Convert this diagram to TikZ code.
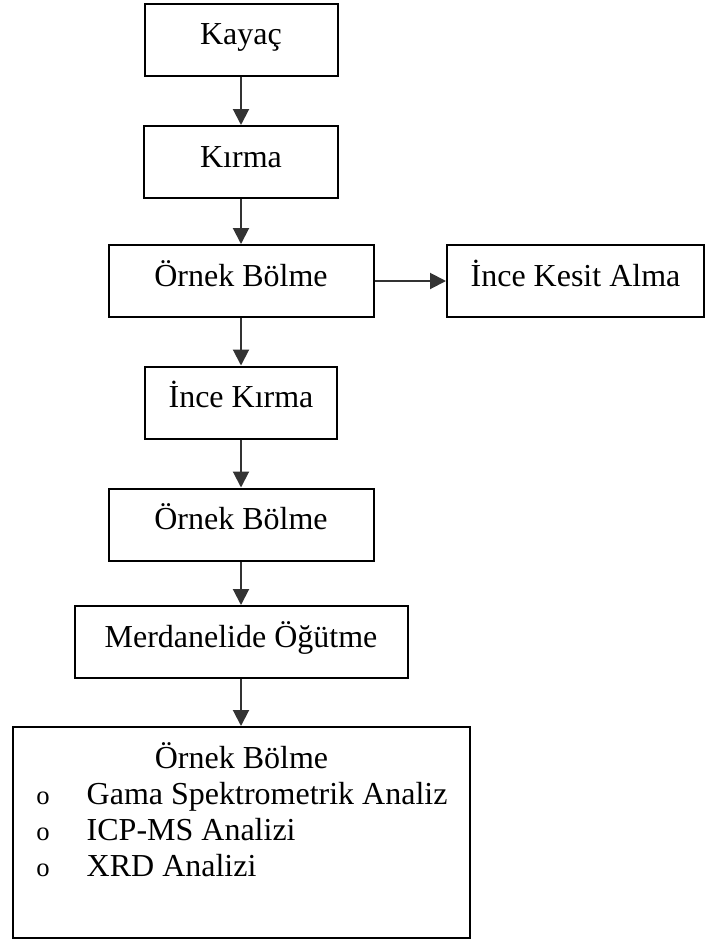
\documentclass[tikz,border=0pt]{standalone}
\usepackage{fontspec}
\setmainfont{Liberation Serif}
\usetikzlibrary{arrows.meta}

\begin{document}
\begin{tikzpicture}[x=0.75pt, y=-0.75pt,
	kutu/.style={rectangle, draw=black, line width=1.5pt, minimum height=54pt,
		text height=18pt, text depth=10pt, inner sep=0pt, font=\fontsize{24}{29}\selectfont},
	ok/.style={draw=black!80, line width=1.5pt, -{Triangle[length=12pt,width=12pt]}},
	yazi/.style={font=\fontsize{24}{29}\selectfont}]

	\useasboundingbox (0,0) rectangle (706,940);

	\node [kutu, minimum width=144.75pt] (kayac) at (241,39.5) {Kayaç};
	\node [kutu, minimum width=145.5pt] (kirma) at (241,162) {Kırma};
	\node [kutu, minimum width=198.75pt] (bolme1) at (241,281) {Örnek Bölme};
	\node [kutu, minimum width=192.75pt] (kesit) at (575.5,281) {İnce Kesit Alma};
	\node [kutu, minimum width=144pt] (incekirma) at (241,402.5) {İnce Kırma};
	\node [kutu, minimum width=198.75pt] (bolme2) at (241,524.5) {Örnek Bölme};
	\node [kutu, minimum width=249.75pt] (ogutme) at (241,642) {Merdanelide Öğütme};
	\node [kutu, minimum width=342.75pt, minimum height=158.25pt] (analiz) at (241,832.5) {};

	\node [yazi, anchor=base] (baslik) at (241.5,768) {Örnek Bölme};
	\foreach \i/\t in {1/Gama Spektrometrik Analiz, 2/ICP-MS Analizi, 3/XRD Analizi}{
		\node [yazi, anchor=base, font=\fontsize{20}{24}\selectfont] (isaret\i) at (43,{768+36*\i}) {o};
		\node [yazi, anchor=base west] (madde\i) at (82,{768+36*\i}) {\t};
	}

	\draw [ok] (kayac) -- (kirma);
	\draw [ok] (kirma) -- (bolme1);
	\draw [ok] (bolme1) -- (kesit);
	\draw [ok] (bolme1) -- (incekirma);
	\draw [ok] (incekirma) -- (bolme2);
	\draw [ok] (bolme2) -- (ogutme);
	\draw [ok] (ogutme) -- (analiz);
	%\node [draw] at (analiz.south) {};

\end{tikzpicture}
\end{document}
